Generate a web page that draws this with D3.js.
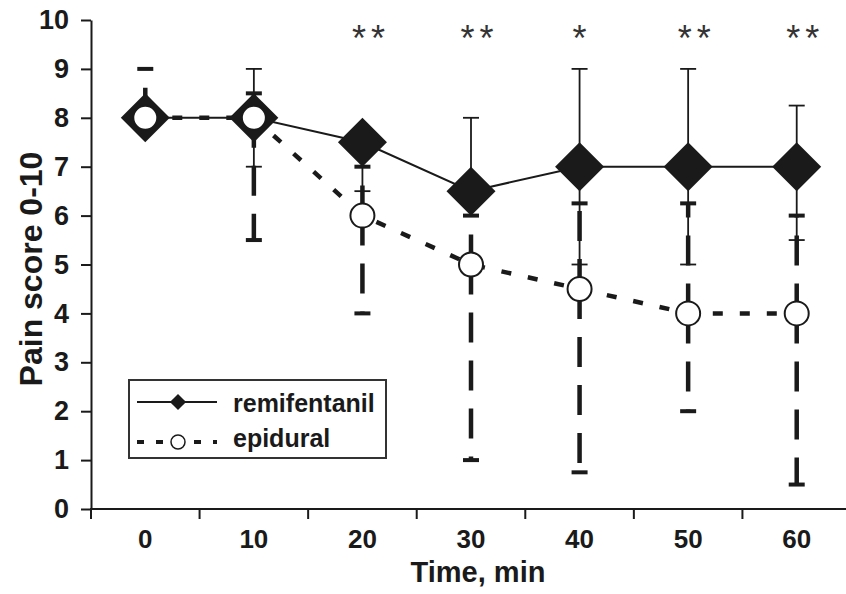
<!DOCTYPE html>
<html>
<head>
<meta charset="utf-8">
<script src="https://cdn.jsdelivr.net/npm/d3@7"></script>
<style>
  body { margin: 0; background: #fff; }
  svg { display: block; font-family: "Liberation Sans", Arial, sans-serif; font-weight: bold; }
</style>
</head>
<body>
<svg id="chart" width="846" height="594"></svg>
<script>
// time points (min)
const times = ['0', '10', '20', '30', '40', '50', '60']
// remifentanil: median and bar limits
const remiMid = [8, 8, 7.5, 6.5, 7, 7, 7]
const remiHi = [8, 9, 7.5, 8, 9, 9, 8.25]
const remiLo = [8, 7, 6.5, 6, 5, 5, 5.5]
// epidural: median and bar limits
const epiMid = [8, 8, 6, 5, 4.5, 4, 4]
const epiHi = [9, 8.5, 7, 6, 6.25, 6.25, 6]
const epiLo = [8, 5.5, 4, 1, 0.75, 2, 0.5]
// significance marks per time point
const stars = [0, 0, 2, 2, 1, 2, 2]
const yTicks = [0, 1, 2, 3, 4, 5, 6, 7, 8, 9, 10]

const ink = '#1a1a1a'
const svg = d3.select('#chart')

const x = d3.scaleBand().domain(times).range([91, 851]).padding(0)
const y = d3.scaleLinear().domain([0, 10]).range([509, 20])
const cx = (t) => x(t) + x.bandwidth() / 2

/* ------------- AXES ------------ */
const yAxis = svg.append('g')
  .attr('transform', 'translate(91,0)')
  .call(d3.axisLeft(y).tickValues(yTicks).tickSize(10).tickSizeOuter(0).tickPadding(12))
yAxis.select('.domain').attr('stroke', ink).attr('stroke-width', 2)
yAxis.selectAll('.tick line').attr('stroke', ink).attr('stroke-width', 2)
yAxis.selectAll('.tick text')
  .attr('fill', ink)
  .style('font-size', '27px')
  .style('font-family', '"Liberation Sans", Arial, sans-serif')
  .style('font-weight', 'bold')

const xAxis = svg.append('g')
  .attr('transform', 'translate(0,509)')
  .call(d3.axisBottom(x).tickSize(0).tickSizeOuter(0).tickPadding(21))
xAxis.select('.domain').remove()
xAxis.selectAll('.tick text')
  .attr('fill', ink)
  .style('font-size', '26px')
  .style('font-family', '"Liberation Sans", Arial, sans-serif')
  .style('font-weight', 'bold')

svg.append('line')
  .attr('x1', 90).attr('x2', 846)
  .attr('y1', y(0)).attr('y2', y(0))
  .attr('stroke', ink).attr('stroke-width', 2)

svg.append('g').selectAll('line')
  .data(times)
  .enter()
  .append('line')
  .attr('x1', (d) => x(d)).attr('x2', (d) => x(d))
  .attr('y1', y(0)).attr('y2', y(0) + 10)
  .attr('stroke', ink).attr('stroke-width', 2)

svg.append('text')
  .attr('x', 478).attr('y', 582)
  .attr('text-anchor', 'middle')
  .attr('fill', ink)
  .style('font-size', '29px')
  .text('Time, min')

svg.append('text')
  .attr('transform', 'translate(42,269) rotate(-90)')
  .attr('text-anchor', 'middle')
  .attr('fill', ink)
  .style('font-size', '32px')
  .text('Pain score 0-10')

/* ------------- ERROR BARS ------------ */
// each bar runs from the median out to its limit, so the dash pattern starts at the marker
function bars(mid, lim) {
  return times.map((t, i) => ({ t, from: mid[i], to: lim[i] })).filter((d) => d.from !== d.to)
}

const epiBars = bars(epiMid, epiHi).concat(bars(epiMid, epiLo))
const remiBars = bars(remiMid, remiHi).concat(bars(remiMid, remiLo))

const barGroup = svg.append('g')
barGroup.selectAll('line.epi')
  .data(epiBars)
  .enter()
  .append('line')
  .attr('class', 'epi')
  .attr('x1', (d) => cx(d.t)).attr('x2', (d) => cx(d.t))
  .attr('y1', (d) => y(d.from)).attr('y2', (d) => y(d.to))
  .attr('stroke', ink).attr('stroke-width', 4.5)
  .attr('stroke-dasharray', '30,18')

barGroup.selectAll('line.epicap')
  .data(epiBars)
  .enter()
  .append('line')
  .attr('class', 'epicap')
  .attr('x1', (d) => cx(d.t) - 8).attr('x2', (d) => cx(d.t) + 8)
  .attr('y1', (d) => y(d.to)).attr('y2', (d) => y(d.to))
  .attr('stroke', ink).attr('stroke-width', 4)

barGroup.selectAll('line.remi')
  .data(remiBars)
  .enter()
  .append('line')
  .attr('class', 'remi')
  .attr('x1', (d) => cx(d.t)).attr('x2', (d) => cx(d.t))
  .attr('y1', (d) => y(d.from)).attr('y2', (d) => y(d.to))
  .attr('stroke', ink).attr('stroke-width', 1.8)

barGroup.selectAll('line.remicap')
  .data(remiBars)
  .enter()
  .append('line')
  .attr('class', 'remicap')
  .attr('x1', (d) => cx(d.t) - 8).attr('x2', (d) => cx(d.t) + 8)
  .attr('y1', (d) => y(d.to)).attr('y2', (d) => y(d.to))
  .attr('stroke', ink).attr('stroke-width', 1.8)

/* ------------- LINES ------------ */
const line = d3.line().x((d, i) => cx(times[i])).y((d) => y(d))
svg.append('path')
  .attr('d', line(remiMid))
  .attr('fill', 'none').attr('stroke', ink).attr('stroke-width', 2)

svg.append('path')
  .attr('d', line(epiMid))
  .attr('fill', 'none').attr('stroke', ink).attr('stroke-width', 4.5)
  .attr('stroke-dasharray', '10,17')

/* ------------- MARKERS ------------ */
const diamond = d3.symbol(d3.symbolSquare, 1200)
svg.append('g').selectAll('path')
  .data(remiMid)
  .enter()
  .append('path')
  .attr('d', diamond)
  .attr('transform', (d, i) => `translate(${cx(times[i])},${y(d)}) rotate(45)`)
  .attr('fill', ink)

svg.append('g').selectAll('circle')
  .data(epiMid)
  .enter()
  .append('circle')
  .attr('cx', (d, i) => cx(times[i]))
  .attr('cy', (d) => y(d))
  .attr('r', 12)
  .attr('fill', '#fff').attr('stroke', ink).attr('stroke-width', 2)

/* ------------- STARS ------------ */
const starData = []
stars.forEach((n, i) => {
  for (let j = 0; j < n; j++) {
    starData.push({ t: times[i], dx: n === 1 ? 0 : (j - 0.5) * 19 + 6 })
  }
})
svg.append('g').selectAll('text')
  .data(starData)
  .enter()
  .append('text')
  .attr('x', (d) => cx(d.t) + d.dx)
  .attr('y', 51)
  .attr('text-anchor', 'middle')
  .attr('fill', '#333')
  .style('font-size', '36px')
  .style('font-weight', 'normal')
  .text('*')

/* ------------- LEGEND ------------ */
const legend = svg.append('g')
legend.append('rect')
  .attr('x', 129).attr('y', 380).attr('width', 257).attr('height', 78)
  .attr('fill', '#fff').attr('stroke', '#333').attr('stroke-width', 2)

legend.append('line')
  .attr('x1', 137).attr('x2', 217).attr('y1', 402).attr('y2', 402)
  .attr('stroke', ink).attr('stroke-width', 2)
legend.append('path')
  .attr('d', d3.symbol(d3.symbolSquare, 130))
  .attr('transform', 'translate(178,402) rotate(45)')
  .attr('fill', ink)

legend.append('line')
  .attr('x1', 137).attr('x2', 217).attr('y1', 442).attr('y2', 442)
  .attr('stroke', ink).attr('stroke-width', 4)
  .attr('stroke-dasharray', '7,12')
legend.append('circle')
  .attr('cx', 178).attr('cy', 442).attr('r', 7)
  .attr('fill', '#fff').attr('stroke', ink).attr('stroke-width', 1.5)

legend.selectAll('text')
  .data(['remifentanil', 'epidural'])
  .enter()
  .append('text')
  .attr('x', 233)
  .attr('y', (d, i) => 412 + i * 35)
  .attr('fill', ink)
  .style('font-size', '25px')
  .text((d) => d)
</script>
</body>
</html>
